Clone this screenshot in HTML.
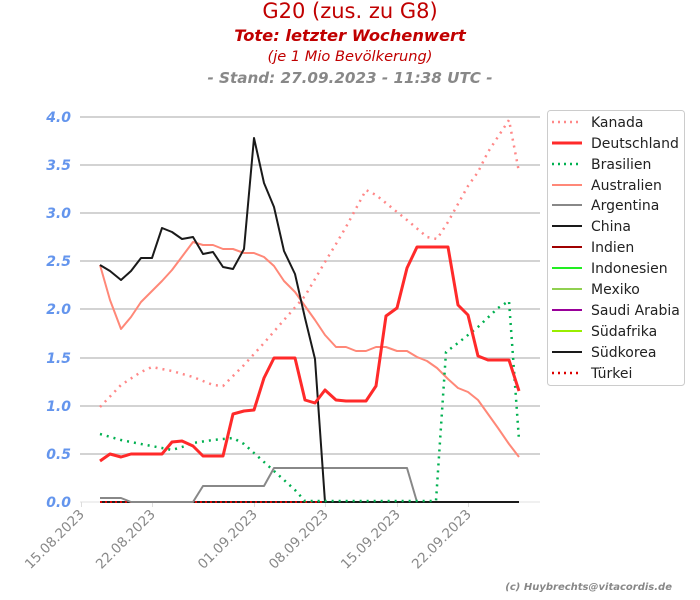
<!DOCTYPE html>
<html><head><meta charset="utf-8"><style>body{margin:0;background:#fff}svg{display:block}</style></head><body>
<svg width="700" height="600" xmlns="http://www.w3.org/2000/svg" font-family="DejaVu Sans, sans-serif">
<rect width="700" height="600" fill="#fff"/>
<text x="350" y="18" text-anchor="middle" font-size="21" fill="#c00000">G20 (zus. zu G8)</text>
<text x="350" y="41" text-anchor="middle" font-size="16.3" font-weight="bold" font-style="italic" fill="#c00000">Tote: letzter Wochenwert</text>
<text x="350" y="61" text-anchor="middle" font-size="14.6" font-style="italic" fill="#c00000">(je 1 Mio Bevölkerung)</text>
<text x="350" y="83" text-anchor="middle" font-size="15.2" font-weight="bold" font-style="italic" fill="#888">- Stand: 27.09.2023 - 11:38 UTC -</text>
<g stroke="#d3d3d3" stroke-width="2">
<line x1="80" x2="540" y1="117" y2="117"/><line x1="80" x2="540" y1="165" y2="165"/><line x1="80" x2="540" y1="213" y2="213"/><line x1="80" x2="540" y1="261" y2="261"/><line x1="80" x2="540" y1="309" y2="309"/><line x1="80" x2="540" y1="358" y2="358"/><line x1="80" x2="540" y1="406" y2="406"/><line x1="80" x2="540" y1="454" y2="454"/>
</g>
<line x1="80" x2="540" y1="502" y2="502" stroke="#e0e0e0" stroke-width="1"/>
<g stroke="#ddd"><line x1="81.5" x2="81.5" y1="502" y2="507"/><line x1="152.5" x2="152.5" y1="502" y2="507"/><line x1="254.5" x2="254.5" y1="502" y2="507"/><line x1="325.5" x2="325.5" y1="502" y2="507"/><line x1="397.5" x2="397.5" y1="502" y2="507"/><line x1="468.5" x2="468.5" y1="502" y2="507"/></g>
<g font-size="14" font-weight="bold" font-style="italic" fill="#6495ed" text-anchor="end">
<text x="71" y="122">4.0</text><text x="71" y="170">3.5</text><text x="71" y="218">3.0</text><text x="71" y="266">2.5</text><text x="71" y="314">2.0</text><text x="71" y="363">1.5</text><text x="71" y="411">1.0</text><text x="71" y="459">0.5</text><text x="71" y="507">0.0</text>
</g>
<g font-size="13.5" fill="#888" text-anchor="end">
<text transform="translate(85,515) rotate(-45)">15.08.2023</text>
<text transform="translate(156,515) rotate(-45)">22.08.2023</text>
<text transform="translate(258,515) rotate(-45)">01.09.2023</text>
<text transform="translate(329,515) rotate(-45)">08.09.2023</text>
<text transform="translate(401,515) rotate(-45)">15.09.2023</text>
<text transform="translate(472,515) rotate(-45)">22.09.2023</text>
</g>
<g fill="none" stroke-linejoin="round">
<polyline stroke="#a00000" stroke-width="2" points="100,502 519,502"/>
<polyline stroke="#22ee22" stroke-width="2" points="100,502 519,502"/>
<polyline stroke="#222" stroke-width="2" points="100,502 519,502"/>
<polyline stroke="#dd0000" stroke-width="2" stroke-dasharray="2,3" points="100,502 519,502"/>
<polyline stroke="#888" stroke-width="2" points="100,498 121,498 131,502 193,502 203,486 264,486 274,468 407,468 417,502 519,502"/>
<polyline stroke="#ff8878" stroke-width="2" points="100,265 110,300 121,329 131,317 141,302 162,281 172,270 193,242 203,245 213,245 223,249 233,249 244,253 254,253 264,257 274,266 284,281 295,292 305,306 315,320 325,335 336,347 346,347 356,351 366,351 376,347 386,347 397,351 407,351 417,357 427,361 437,368 448,379 458,388 468,392 478,400 498,428 509,444 519,457"/>
<polyline stroke="#1a1a1a" stroke-width="2" points="100,265 110,271 121,280 131,271 141,258 152,258 162,228 172,232 182,239 193,237 203,254 213,252 223,267 233,269 244,249 254,138 264,183 274,207 284,251 295,274 305,318 315,359 325,502 519,502"/>
<polyline stroke="#00b050" stroke-width="2.5" stroke-dasharray="2,5" points="100,434 121,440 141,444 162,448 172,450 182,447 193,443 213,440 233,438 244,444 264,462 284,480 295,490 305,501 436,501 446,352 458,343 478,327 498,308 509,301 519,440"/>
<polyline stroke="#ff8888" stroke-width="2.5" stroke-dasharray="2,5" points="100,407 121,385 141,372 152,367 172,371 193,377 213,385 223,386 244,365 264,343 284,320 305,296 325,262 336,244 346,227 366,190 376,195 397,212 407,220 427,237 437,239 448,222 468,186 478,172 488,152 509,120 519,172"/>
<polyline stroke="#ff2a2a" stroke-width="3" points="100,461 110,454 121,457 131,454 162,454 172,442 182,441 193,446 203,456 223,456 233,414 244,411 254,410 264,378 274,358 295,358 305,400 315,403 325,390 336,400 346,401 366,401 376,386 386,316 397,308 407,268 417,247 448,247 458,305 468,315 478,356 488,360 509,360 519,391"/>
</g>
<rect x="547.5" y="110.5" width="137" height="275" rx="3" fill="#fff" stroke="#ccc"/>
<g stroke-width="2.5">
<line x1="552" x2="580" y1="122" y2="122" stroke="#ff8888" stroke-dasharray="2,4"/>
<line x1="552" x2="582" y1="143" y2="143" stroke="#ff2a2a" stroke-width="3"/>
<line x1="552" x2="580" y1="164" y2="164" stroke="#00b050" stroke-dasharray="2,4"/>
<line x1="552" x2="582" y1="185" y2="185" stroke="#ff8878" stroke-width="2"/>
<line x1="552" x2="582" y1="205" y2="205" stroke="#888" stroke-width="2"/>
<line x1="552" x2="582" y1="226" y2="226" stroke="#1a1a1a" stroke-width="2"/>
<line x1="552" x2="582" y1="247" y2="247" stroke="#a00000" stroke-width="2"/>
<line x1="552" x2="582" y1="268" y2="268" stroke="#22ee22" stroke-width="2"/>
<line x1="552" x2="582" y1="289" y2="289" stroke="#90d050" stroke-width="2"/>
<line x1="552" x2="582" y1="310" y2="310" stroke="#990099" stroke-width="2"/>
<line x1="552" x2="582" y1="331" y2="331" stroke="#99ee00" stroke-width="2"/>
<line x1="552" x2="582" y1="352" y2="352" stroke="#1a1a1a" stroke-width="2"/>
<line x1="552" x2="580" y1="373" y2="373" stroke="#dd0000" stroke-dasharray="2,4"/>
</g>
<g font-size="14" fill="#222">
<text x="591" y="127">Kanada</text><text x="591" y="148">Deutschland</text><text x="591" y="169">Brasilien</text><text x="591" y="190">Australien</text><text x="591" y="210">Argentina</text><text x="591" y="231">China</text><text x="591" y="252">Indien</text><text x="591" y="273">Indonesien</text><text x="591" y="294">Mexiko</text><text x="591" y="315">Saudi Arabia</text><text x="591" y="336">Südafrika</text><text x="591" y="357">Südkorea</text><text x="591" y="378">Türkei</text>
</g>
<text x="672" y="590" text-anchor="end" font-size="10" font-weight="bold" font-style="italic" fill="#888">(c) Huybrechts@vitacordis.de</text>
</svg>
</body></html>
